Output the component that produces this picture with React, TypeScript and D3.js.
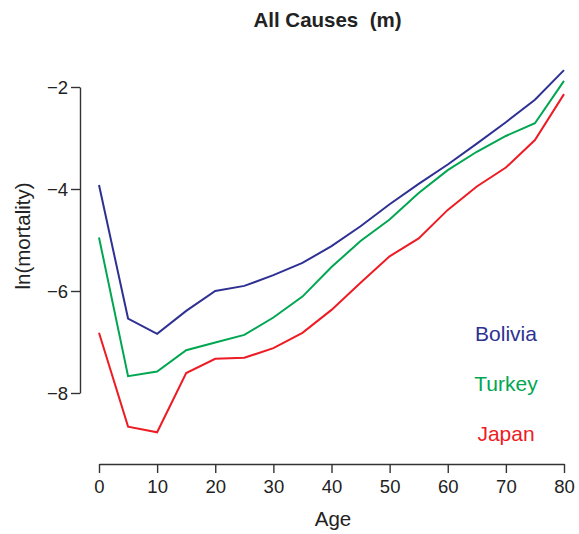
import React, { useEffect, useRef } from 'react';
import * as d3 from 'd3';

// edades (cada 5 años)
const ages = [0, 5, 10, 15, 20, 25, 30, 35, 40, 45, 50, 55, 60, 65, 70, 75, 80];

// ln(mortality), hombres
const bolivia = [-3.92, -6.54, -6.84, -6.39, -6.0, -5.9, -5.69, -5.45, -5.12, -4.73, -4.3, -3.9, -3.52, -3.11, -2.69, -2.25, -1.67];
const turkey = [-4.95, -7.67, -7.58, -7.16, -7.01, -6.86, -6.52, -6.11, -5.53, -5.02, -4.6, -4.08, -3.63, -3.27, -2.96, -2.71, -1.88];
const japan = [-6.82, -8.66, -8.77, -7.61, -7.33, -7.31, -7.12, -6.82, -6.37, -5.84, -5.32, -4.97, -4.41, -3.95, -3.58, -3.04, -2.14];

const countries = ['Bolivia', 'Turkey', 'Japan'];
const colors = ['#2e3192', '#00a651', '#ed1c24'];
const xTicks = [0, 10, 20, 30, 40, 50, 60, 70, 80];
const yTicks = [-2, -4, -6, -8];

const FONT = '"Liberation Sans", Arial, Helvetica, sans-serif';

function App() {
  const ref = useRef<SVGSVGElement>(null);

  useEffect(() => {
    const svg = d3.select(ref.current);
    svg.selectAll('*').remove();

    const x = d3.scaleLinear().domain([0, 80]).range([99, 564]);
    const y = d3.scaleLinear().domain([-8, -2]).range([393, 87]);

    // titulo
    svg.append('text')
      .attr('x', 327.5).attr('y', 27)
      .attr('text-anchor', 'middle')
      .style('white-space', 'pre')
      .attr('font-family', FONT).attr('font-weight', 'bold').attr('font-size', 20.5)
      .attr('fill', '#222')
      .text('All Causes  (m)');

    // eje x
    const gx = svg.append('g').attr('transform', 'translate(0,464)')
      .call(d3.axisBottom(x).tickValues(xTicks).tickSize(9).tickPadding(7).tickSizeOuter(0));
    // eje y
    const gy = svg.append('g').attr('transform', 'translate(80,0)')
      .call(d3.axisLeft(y).tickValues(yTicks).tickSize(9).tickPadding(3).tickSizeOuter(0)
        .tickFormat((d) => d3.format('')(d as number).replace('-', '\u2212')));

    [gx, gy].forEach((g) => {
      g.selectAll('path, line').attr('stroke', '#333').attr('stroke-width', 1.4);
      g.selectAll('text').attr('font-family', FONT).attr('font-size', 18.5).attr('fill', '#222');
    });
    gy.selectAll('text').attr('dy', '0.35em');

    svg.append('text')
      .attr('x', 333).attr('y', 526)
      .attr('text-anchor', 'middle')
      .attr('font-family', FONT).attr('font-size', 20.5).attr('fill', '#222')
      .text('Age');

    svg.append('text')
      .attr('transform', 'translate(30,236) rotate(-90)')
      .attr('text-anchor', 'middle')
      .attr('font-family', FONT).attr('font-size', 20.5).attr('fill', '#222')
      .text('ln(mortality)');

    // lineas
    const line = d3.line<number>()
      .x((_, i) => x(ages[i]))
      .y((d) => y(d));

    [bolivia, turkey, japan].forEach((serie, i) => {
      svg.append('path')
        .attr('d', line(serie))
        .attr('fill', 'none')
        .attr('stroke', colors[i])
        .attr('stroke-width', 2);
    });

    // leyenda dentro del grafico
    countries.forEach((c, i) => {
      svg.append('text')
        .attr('x', 506).attr('y', 341 + i * 50)
        .attr('text-anchor', 'middle')
        .attr('font-family', FONT).attr('font-size', 21)
        .attr('fill', colors[i])
        .text(c);
    });
  }, []);

  return (
    <svg ref={ref} width={579} height={534}
      style={{ position: 'absolute', left: 0, top: 0, background: '#fff' }} />
  );
}

export default App;
